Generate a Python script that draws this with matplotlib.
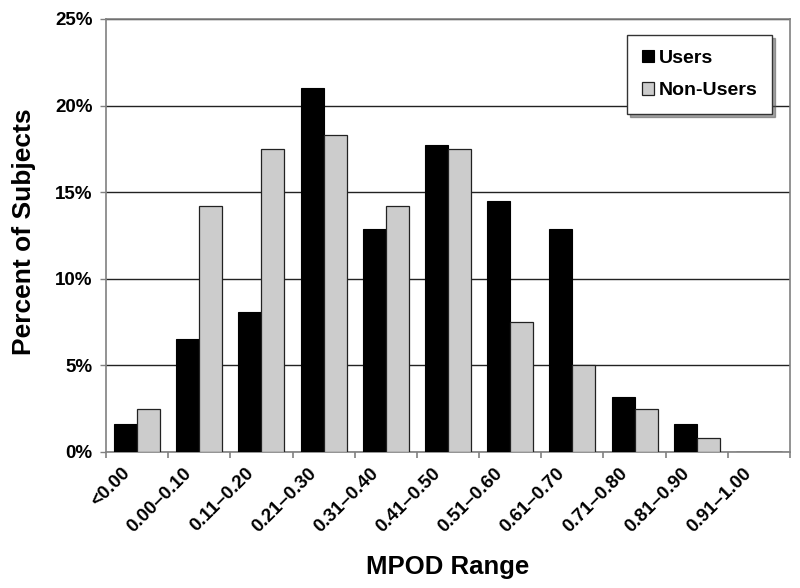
import numpy as np
import matplotlib.pyplot as plt
import matplotlib.transforms as mtransforms

plt.rcParams['font.family'] = ['Liberation Sans', 'DejaVu Sans']
plt.rcParams['font.weight'] = 'bold'

ranges = ["<0.00", "0.00–0.10", "0.11–0.20", "0.21–0.30", "0.31–0.40", "0.41–0.50",
          "0.51–0.60", "0.61–0.70", "0.71–0.80", "0.81–0.90", "0.91–1.00"]
users = [1.6, 6.5, 8.1, 21.0, 12.9, 17.7, 14.5, 12.9, 3.2, 1.6, 0.0]
non_users = [2.5, 14.2, 17.5, 18.3, 14.2, 17.5, 7.5, 5.0, 2.5, 0.8, 0.0]

fig = plt.figure(figsize=(8, 5.88), dpi=100)
ax = fig.add_axes([0.1325, 0.2313, 0.855, 0.7364])

x = np.arange(len(ranges))
w = 0.37
ax.bar(x - w/2, users, w, color='black', edgecolor='black', linewidth=0.8, label='Users', zorder=3)
ax.bar(x + w/2, non_users, w, color='#cccccc', edgecolor='#222222', linewidth=0.9, label='Non-Users', zorder=3)

ax.set_xlim(-0.5, len(ranges) - 0.5)
ax.set_ylim(0, 25)
ax.set_yticks([0, 5, 10, 15, 20, 25])
ax.set_yticklabels(['0%', '5%', '10%', '15%', '20%', '25%'], fontsize=13.5, fontweight='bold')
ax.yaxis.grid(True, color='#222222', linewidth=1.0, zorder=0)
ax.tick_params(axis='y', length=4.5, width=1, color='#808080', pad=5)

ax.set_xticks(x)
ax.set_xticklabels(ranges, rotation=45, ha='right', va='top', rotation_mode='anchor',
                   fontsize=13.5, fontweight='bold')
ax.tick_params(axis='x', which='major', length=0, pad=9)
# labels end a bit left of the category centre
shift = mtransforms.ScaledTranslation(-16/100, 0, fig.dpi_scale_trans)
for lab in ax.get_xticklabels():
    lab.set_transform(lab.get_transform() + shift)
ax.set_xticks(np.arange(-0.5, len(ranges), 1), minor=True)
ax.tick_params(axis='x', which='minor', length=4.5, width=1.2, color='#808080')

for s in ax.spines.values():
    s.set_color('#808080')
    s.set_linewidth(1.2)

ax.set_xlabel('MPOD Range', fontsize=18.5, fontweight='bold')
ax.xaxis.set_label_coords(0.5, -0.238)
ax.set_ylabel('Percent of Subjects', fontsize=19, fontweight='bold')
ax.yaxis.set_label_coords(-0.103, 0.508)

leg = ax.legend(loc='upper right', bbox_to_anchor=(0.974, 0.963), fontsize=14, frameon=True,
                fancybox=False, shadow=True, edgecolor='#333333', handlelength=0.62,
                handleheight=0.62, handletextpad=0.26, labelspacing=0.8, borderpad=0.75,
                borderaxespad=0)
leg.get_frame().set_linewidth(1.0)

fig.savefig('out.png', dpi=100)
